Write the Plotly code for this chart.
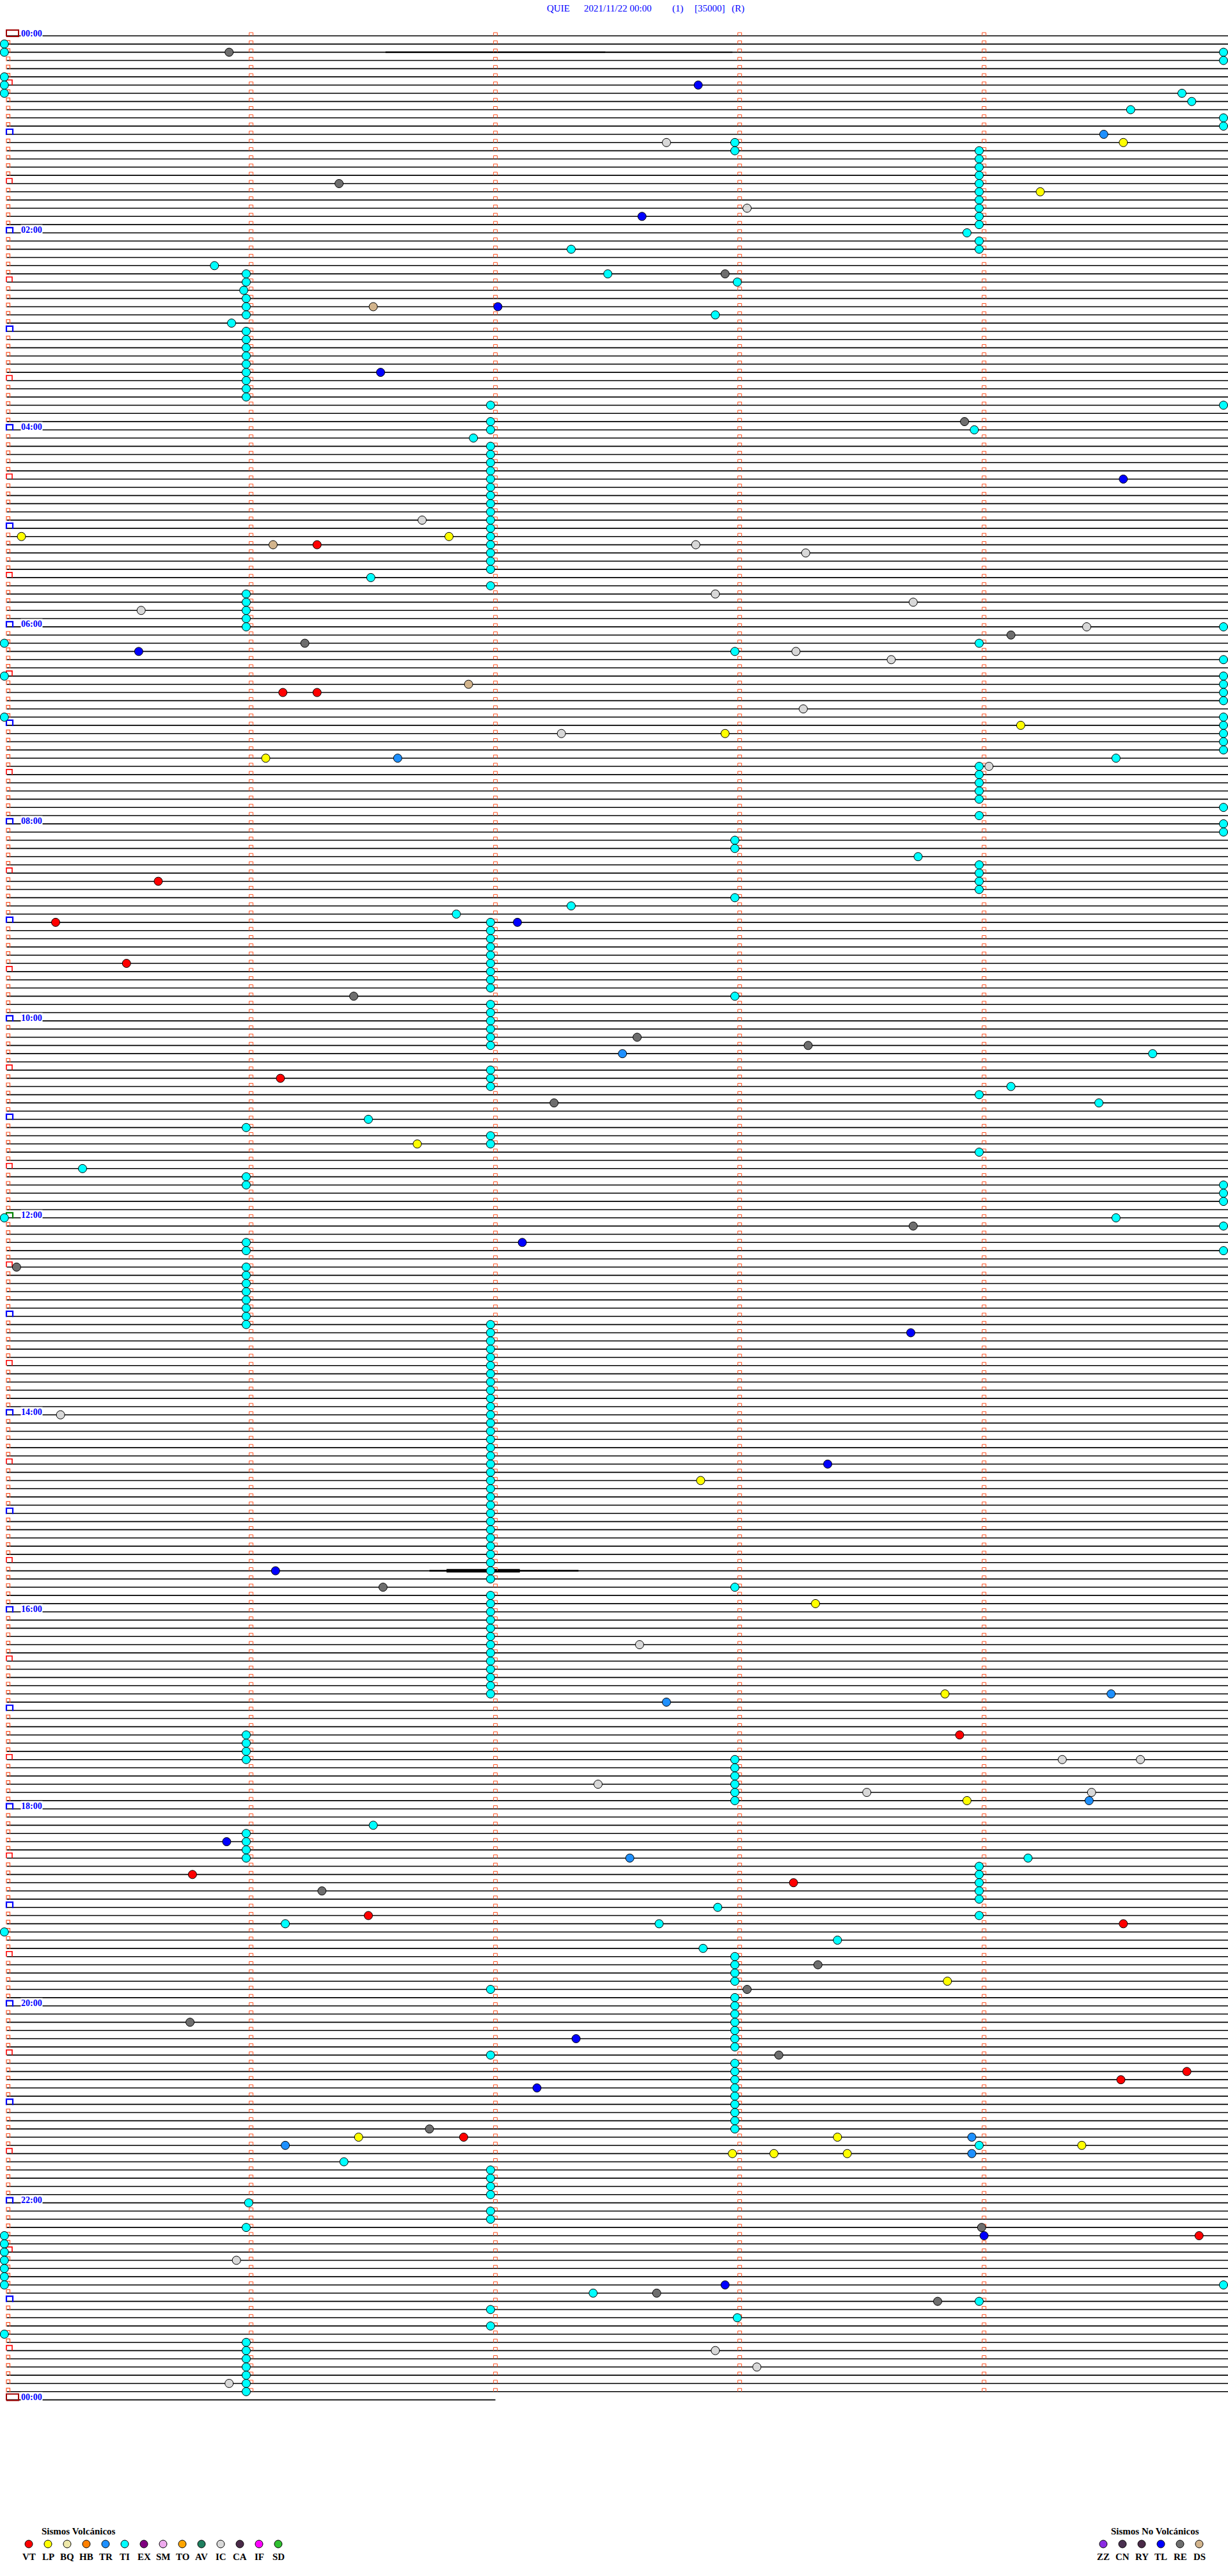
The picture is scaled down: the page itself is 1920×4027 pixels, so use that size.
import plotly.graph_objects as go

# ---------------------------------------------------------------- data
# Helicorder QUIE 2021/11/22: 288 lines of 5 minutes (+ a partial last line)
N_FULL_ROWS = 288
LAST_ROW_END_MIN = 2.0
ROW_MINUTES = 5.0

title_parts = ["QUIE", "2021/11/22 00:00", "(1)", "[35000]", "(R)"]

hour_label_rows = [0, 24, 48, 72, 96, 120, 144, 168, 192, 216, 240, 264, 288]
hour_label_text = ["00:00", "02:00", "04:00", "06:00", "08:00", "10:00", "12:00",
                   "14:00", "16:00", "18:00", "20:00", "22:00", "00:00"]

# events: (line index, minute within the 5-minute line)
TI_events = [
    # left edge
    (1, -0.01), (2, -0.01), (5, -0.01), (6, -0.01), (7, -0.01), (74, -0.01), (78, -0.01),
    (83, -0.01), (144, -0.01), (231, -0.01), (268, -0.01), (269, -0.01), (270, -0.01),
    (271, -0.01), (272, -0.01), (273, -0.01), (274, -0.01), (280, -0.01),
    # right edge
    (2, 4.98), (3, 4.98), (10, 4.98), (11, 4.98), (45, 4.98), (72, 4.98), (76, 4.98),
    (78, 4.98), (79, 4.98), (80, 4.98), (81, 4.98), (83, 4.98), (84, 4.98), (85, 4.98),
    (86, 4.98), (87, 4.98), (94, 4.98), (96, 4.98), (97, 4.98), (140, 4.98), (141, 4.98),
    (142, 4.98), (145, 4.98), (148, 4.98), (274, 4.98),
    # near minute 1
    (29, 0.98), (30, 0.98), (31, 0.97), (32, 0.98), (33, 0.98), (34, 0.98), (35, 0.92),
    (36, 0.98), (37, 0.98), (38, 0.98), (39, 0.98), (40, 0.98), (41, 0.98), (42, 0.98),
    (43, 0.98), (44, 0.98), (68, 0.98), (69, 0.98), (70, 0.98), (71, 0.98), (72, 0.98),
    (133, 0.98), (139, 0.98), (140, 0.98), (147, 0.98), (148, 0.98), (150, 0.98),
    (151, 0.98), (152, 0.98), (153, 0.98), (154, 0.98), (155, 0.98), (156, 0.98),
    (157, 0.98), (207, 0.98), (208, 0.98), (209, 0.98), (210, 0.98), (219, 0.98),
    (220, 0.98), (221, 0.98), (222, 0.98), (264, 0.99), (267, 0.98), (281, 0.98),
    (282, 0.98), (283, 0.98), (284, 0.98), (285, 0.98), (286, 0.98), (287, 0.98),
    # near minute 2
    (45, 1.98), (47, 1.98), (48, 1.98), (49, 1.91), (50, 1.98), (51, 1.98), (52, 1.98),
    (53, 1.98), (54, 1.98), (55, 1.98), (56, 1.98), (57, 1.98), (58, 1.98), (59, 1.98),
    (60, 1.98), (61, 1.98), (62, 1.98), (63, 1.98), (64, 1.98), (65, 1.98), (67, 1.98),
    (108, 1.98), (109, 1.98), (110, 1.98), (111, 1.98), (112, 1.98), (113, 1.98),
    (114, 1.98), (115, 1.98), (116, 1.98), (118, 1.98), (119, 1.98), (120, 1.98),
    (121, 1.98), (122, 1.98), (123, 1.98), (126, 1.98), (127, 1.98), (128, 1.98),
    (134, 1.98), (135, 1.98), (157, 1.98), (158, 1.98), (159, 1.98), (160, 1.98),
    (161, 1.98), (162, 1.98), (163, 1.98), (164, 1.98), (165, 1.98), (166, 1.98),
    (167, 1.98), (168, 1.98), (169, 1.98), (170, 1.98), (171, 1.98), (172, 1.98),
    (173, 1.98), (174, 1.98), (175, 1.98), (176, 1.98), (177, 1.98), (178, 1.98),
    (179, 1.98), (180, 1.98), (181, 1.98), (182, 1.98), (183, 1.98), (184, 1.98),
    (185, 1.98), (186, 1.98), (187, 1.98), (188, 1.98), (190, 1.98), (191, 1.98),
    (192, 1.98), (193, 1.98), (194, 1.98), (195, 1.98), (196, 1.98), (197, 1.98),
    (198, 1.98), (199, 1.98), (200, 1.98), (201, 1.98), (202, 1.98), (238, 1.98),
    (246, 1.98), (260, 1.98), (261, 1.98), (262, 1.98), (263, 1.98), (265, 1.98),
    (266, 1.98), (277, 1.98), (279, 1.98),
    # near minute 3
    (13, 2.98), (14, 2.98), (30, 2.99), (75, 2.98), (98, 2.98), (99, 2.98), (105, 2.98),
    (117, 2.98), (189, 2.98), (210, 2.98), (211, 2.98), (212, 2.98), (213, 2.98),
    (214, 2.98), (215, 2.98), (234, 2.98), (235, 2.98), (236, 2.98), (237, 2.98),
    (239, 2.98), (240, 2.98), (241, 2.98), (242, 2.98), (243, 2.98), (244, 2.98),
    (245, 2.98), (247, 2.98), (248, 2.98), (249, 2.98), (250, 2.98), (251, 2.98),
    (252, 2.98), (253, 2.98), (254, 2.98), (255, 2.98), (278, 2.99),
    # near minute 4
    (14, 3.98), (15, 3.98), (16, 3.98), (17, 3.98), (18, 3.98), (19, 3.98), (20, 3.98),
    (21, 3.98), (22, 3.98), (23, 3.98), (25, 3.98), (26, 3.98), (74, 3.98), (89, 3.98),
    (90, 3.98), (91, 3.98), (92, 3.98), (93, 3.98), (95, 3.98), (101, 3.98), (102, 3.98),
    (103, 3.98), (104, 3.98), (129, 3.98), (136, 3.98), (223, 3.98), (224, 3.98),
    (225, 3.98), (226, 3.98), (227, 3.98), (229, 3.98), (257, 3.98), (276, 3.98),
    # others
    (7, 4.81), (8, 4.85), (9, 4.60), (24, 3.93), (26, 2.31), (28, 0.85), (29, 2.46),
    (34, 2.90), (48, 3.96), (66, 1.49), (88, 4.54), (100, 3.73), (106, 2.31), (107, 1.84),
    (124, 4.69), (128, 4.11), (130, 4.47), (132, 1.48), (138, 0.31), (144, 4.54),
    (218, 1.50), (222, 4.18), (228, 2.91), (230, 1.14), (230, 2.67), (232, 3.40),
    (233, 2.85), (259, 1.38), (275, 2.40),
]
RE_events = [(2, 0.91), (18, 1.36), (29, 2.94), (47, 3.92), (73, 4.11), (74, 1.22),
             (117, 1.42), (122, 2.58), (123, 3.28), (130, 2.24), (145, 3.71), (150, 0.04),
             (189, 1.54), (226, 1.29), (235, 3.32), (238, 3.03), (242, 0.75), (246, 3.16),
             (255, 1.73), (267, 3.99), (275, 2.66), (276, 3.81)]
IC_events = [(13, 2.70), (21, 3.03), (59, 1.70), (62, 2.82), (63, 3.27), (68, 2.90),
             (69, 3.71), (70, 0.55), (72, 4.42), (75, 3.23), (76, 3.62), (82, 3.26),
             (85, 2.27), (89, 4.02), (168, 0.22), (196, 2.59), (210, 4.32), (210, 4.64),
             (213, 2.42), (214, 3.52), (214, 4.44), (271, 0.94), (282, 2.90), (284, 3.07),
             (286, 0.91)]
TL_events = [(6, 2.83), (22, 2.60), (33, 2.01), (41, 1.53), (54, 4.57), (75, 0.54),
             (108, 2.09), (147, 2.11), (158, 3.70), (174, 3.36), (187, 1.10), (220, 0.90),
             (244, 2.33), (250, 2.17), (268, 4.00), (274, 2.94)]
TR_events = [(12, 4.49), (88, 1.60), (124, 2.52), (202, 4.52), (203, 2.70), (215, 4.43),
             (222, 2.55), (256, 3.95), (257, 1.14), (258, 3.95)]
LP_events = [(13, 4.57), (19, 4.23), (61, 0.06), (61, 1.81), (84, 4.15), (85, 2.94),
             (88, 1.06), (135, 1.68), (176, 2.84), (191, 3.31), (202, 3.84), (215, 3.93),
             (237, 3.85), (256, 1.44), (256, 3.40), (257, 4.40), (258, 2.97), (258, 3.14),
             (258, 3.44)]
VT_events = [(62, 1.27), (80, 1.13), (80, 1.27), (103, 0.62), (108, 0.20), (113, 0.49),
             (127, 1.12), (207, 3.90), (224, 0.76), (225, 3.22), (229, 1.48), (230, 4.57),
             (248, 4.83), (249, 4.56), (256, 1.87), (268, 4.88)]
DS_events = [(33, 1.50), (62, 1.09), (79, 1.89)]

# noisy stretches on a few lines: (line, start minute, end minute)
noise_bursts = [(2, 1.55, 2.45), (2, 2.45, 2.97), (187, 1.73, 2.34), (187, 1.80, 2.10)]
noise_widths = [2.2, 1.6, 2.5, 5.5]

volc_codes = ["VT", "LP", "BQ", "HB", "TR", "TI", "EX", "SM", "TO", "AV", "IC", "CA", "IF", "SD"]
volc_colors = ["#FF0000", "#FFFF00", "#EEE8AA", "#FF8000", "#1E90FF", "#00FFFF", "#800080",
               "#EEAAEE", "#FFA500", "#1F7F5F", "#D8D8D8", "#4A2A48", "#FF00FF", "#30C030"]
novolc_codes = ["ZZ", "CN", "RY", "TL", "RE", "DS"]
novolc_colors = ["#8A2BE2", "#4A3050", "#4A2A48", "#0000FF", "#6E6E6E", "#D2B48C"]
color_of = dict(zip(volc_codes + novolc_codes, volc_colors + novolc_colors))

# ---------------------------------------------------------------- geometry (style)
W, H = 1920, 4027
X0_PX, PX_PER_MIN = 10.6, 382.0      # pixel of minute 0, pixels per minute
Y0_PX, PX_PER_ROW = 56.0, 12.832     # pixel of line 0, pixels per line
dx = lambda px: px / PX_PER_MIN
dy = lambda px: px / PX_PER_ROW
SERIF = "Liberation Serif"
BLUE = "#0000FF"

fig = go.Figure()

# seismic lines (baselines)
tx, ty = [], []
for r in range(N_FULL_ROWS + 1):
    end = ROW_MINUTES if r < N_FULL_ROWS else LAST_ROW_END_MIN
    tx += [0.0, end, None]
    ty += [r, r, None]
fig.add_trace(go.Scatter(x=tx, y=ty, mode="lines", line=dict(color="black", width=1.6),
                         hoverinfo="skip"))

# noisy stretches
for (r, a, b), w in zip(noise_bursts, noise_widths):
    fig.add_trace(go.Scatter(x=[a, b], y=[r, r], mode="lines",
                             line=dict(color="black", width=w), hoverinfo="skip"))

# minute tick marks (small open-bottom boxes)
mx, my = [], []
hw, h = dx(3), dy(5)
for r in range(N_FULL_ROWS):
    for k in (1, 2, 3, 4):
        mx += [k - hw, k - hw, k + hw, k + hw, None]
        my += [r, r - h, r - h, r, None]
fig.add_trace(go.Scatter(x=mx, y=my, mode="lines", line=dict(color="#FF5020", width=1),
                         hoverinfo="skip"))

# left-hand line markers
def box(xs, r, wpx, top_px, bot_px, closed=False):
    x1, x2 = xs, xs + dx(wpx)
    t, b = r - dy(top_px), r + dy(bot_px)
    if closed:
        return [x1, x1, x2, x2, x1, None], [b, t, t, b, b, None]
    return [x1, x1, x2, x2, None], [b, t, t, b, None]

small = ([], [])
half = ([], [])
hour = ([], [])
for r in range(N_FULL_ROWS + 1):
    xs = dx(10 - X0_PX)
    if r % 12 == 0:
        if r in (0, 288, 144):
            continue
        bx, by = box(xs, r, 10, 8, 1)
        hour[0].extend(bx); hour[1].extend(by)
    elif r % 12 == 6:
        bx, by = box(xs, r, 9, 8, 0)
        half[0].extend(bx); half[1].extend(by)
    else:
        bx, by = box(xs, r, 5.5, 5.5, 1)
        small[0].extend(bx); small[1].extend(by)
for (px_, py_), col, w in [(small, "#FF5020", 1.2), (half, "#FF0000", 1.6), (hour, BLUE, 2.2)]:
    fig.add_trace(go.Scatter(x=px_, y=py_, mode="lines", line=dict(color=col, width=w),
                             hoverinfo="skip"))
for r, col in [(0, "#A00000"), (288, "#A00000")]:
    bx, by = box(dx(10 - X0_PX), r, 19, 9, 1, closed=True)
    fig.add_trace(go.Scatter(x=bx, y=by, mode="lines", line=dict(color=col, width=2),
                             hoverinfo="skip"))
bx, by = box(dx(10 - X0_PX), 144, 10, 8, 1)
fig.add_trace(go.Scatter(x=bx, y=by, mode="lines", line=dict(color="#008000", width=2.2),
                         hoverinfo="skip"))

# events
for code, ev in [("TI", TI_events), ("RE", RE_events), ("IC", IC_events), ("TL", TL_events),
                 ("TR", TR_events), ("LP", LP_events), ("VT", VT_events), ("DS", DS_events)]:
    fig.add_trace(go.Scatter(
        x=[m for _, m in ev], y=[r for r, _ in ev], mode="markers", name=code,
        marker=dict(size=13, color=color_of[code], line=dict(color="black", width=1)),
        hoverinfo="skip"))

annotations = []
# hour labels
for r, t in zip(hour_label_rows, hour_label_text):
    annotations.append(dict(x=dx(32 - X0_PX), y=r - dy(4), xref="x", yref="y", text="<b>%s</b>" % t,
                            showarrow=False, xanchor="left", yanchor="middle",
                            font=dict(family=SERIF, size=14, color=BLUE),
                            bgcolor="white", borderpad=0))

# title (pixel overlay axes)
for t, xp in zip(title_parts, [853, 911, 1049, 1084, 1142]):
    annotations.append(dict(x=xp, y=13, xref="x2", yref="y2", text=t, showarrow=False,
                            xanchor="left", yanchor="middle",
                            font=dict(family=SERIF, size=15, color=BLUE)))

# legends
annotations.append(dict(x=63, y=3957, xref="x2", yref="y2", text="<b>Sismos Volcánicos</b>",
                        showarrow=False, xanchor="left", yanchor="middle",
                        font=dict(family=SERIF, size=15, color="black")))
annotations.append(dict(x=1806, y=3957, xref="x2", yref="y2", text="<b>Sismos No Volcánicos</b>",
                        showarrow=False, xanchor="center", yanchor="middle",
                        font=dict(family=SERIF, size=15, color="black")))
lx = [45 + 30 * k for k in range(len(volc_codes))]
nx = [1725 + 30 * k for k in range(len(novolc_codes))]
fig.add_trace(go.Scatter(x=lx + nx, y=[3977] * (len(lx) + len(nx)), xaxis="x2", yaxis="y2",
                         mode="markers", hoverinfo="skip",
                         marker=dict(size=12, color=volc_colors + novolc_colors,
                                     line=dict(color="black", width=1))))
for xp, code in zip(lx + nx, volc_codes + novolc_codes):
    annotations.append(dict(x=xp, y=3997, xref="x2", yref="y2", text="<b>%s</b>" % code,
                            showarrow=False, xanchor="center", yanchor="middle",
                            font=dict(family=SERIF, size=15, color="black")))

fig.update_layout(
    width=W, height=H, margin=dict(l=0, r=0, t=0, b=0),
    paper_bgcolor="white", plot_bgcolor="white", showlegend=False,
    xaxis=dict(range=[(0 - X0_PX) / PX_PER_MIN, (W - X0_PX) / PX_PER_MIN], visible=False,
               domain=[0, 1], fixedrange=True),
    yaxis=dict(range=[(H - Y0_PX) / PX_PER_ROW, (0 - Y0_PX) / PX_PER_ROW], visible=False,
               domain=[0, 1], fixedrange=True),
    xaxis2=dict(range=[0, W], visible=False, overlaying="x", anchor="y2", fixedrange=True),
    yaxis2=dict(range=[H, 0], visible=False, overlaying="y", anchor="x2", fixedrange=True),
    annotations=annotations,
)

fig.write_html("out.html", config={"displayModeBar": False},
               post_script="document.body.style.margin='0';document.body.style.overflow='hidden';")
